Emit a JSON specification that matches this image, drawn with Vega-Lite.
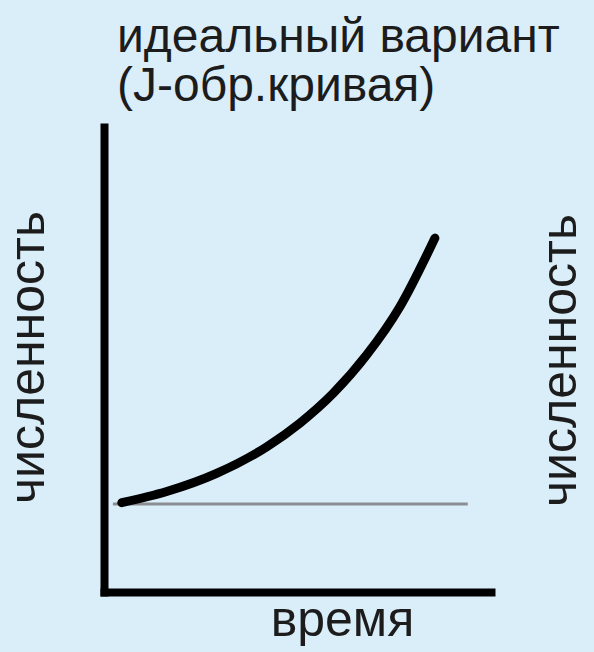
{
  "$schema": "https://vega.github.io/schema/vega-lite/v6.json",
  "autosize": {"type": "none"},
  "width": 387,
  "height": 465,
  "padding": {"left": 104, "top": 127, "right": 103, "bottom": 60},
  "background": "#daeefa",
  "config": {"view": {"stroke": null}},
  "title": {
    "text": ["идеальный вариант", "(J-обр.кривая)"],
    "anchor": "start",
    "frame": "group",
    "font": "Liberation Sans",
    "fontSize": 48,
    "fontWeight": "normal",
    "color": "#1c1c1c",
    "lineHeight": 49,
    "offset": 16,
    "dx": 13
  },
  "datasets": {
    "curve": [
      {"t": 0.46, "v": 1.92},
      {"t": 1.62, "v": 2.16},
      {"t": 2.91, "v": 2.55},
      {"t": 4.2, "v": 3.12},
      {"t": 5.06, "v": 3.63},
      {"t": 5.92, "v": 4.27},
      {"t": 6.79, "v": 5.1},
      {"t": 7.65, "v": 6.14},
      {"t": 8.55, "v": 7.61}
    ],
    "base": [
      {"t": 0.23, "v": 1.89},
      {"t": 9.4, "v": 1.89}
    ]
  },
  "layer": [
    {
      "data": {"name": "base"},
      "mark": {"type": "line", "color": "#8a8e92", "strokeWidth": 3},
      "encoding": {
        "x": {"field": "t", "type": "quantitative", "scale": {"domain": [0, 10], "nice": false, "zero": false},
          "axis": {"domain": true, "domainColor": "#000000", "domainWidth": 8, "domainCap": "square", "ticks": false, "labels": false, "grid": false,
            "title": "время", "titleFont": "Liberation Sans", "titleFontSize": 50, "titleFontWeight": "normal", "titleColor": "#1c1c1c",
            "titleX": 238, "titleY": 43, "titleAlign": "center", "titleBaseline": "alphabetic"}},
        "y": {"field": "v", "type": "quantitative", "scale": {"domain": [0, 10], "nice": false, "zero": false},
          "axis": {"orient": "right", "domain": false, "ticks": false, "labels": false, "grid": false,
            "title": "численность", "titleFont": "Liberation Sans", "titleFontSize": 50, "titleFontWeight": "normal", "titleColor": "#1c1c1c",
            "titleAngle": -90, "titleX": 84, "titleY": 233, "titleAlign": "center", "titleBaseline": "alphabetic"}}
      }
    },
    {
      "data": {"name": "curve"},
      "mark": {"type": "line", "color": "#000000", "strokeWidth": 9, "interpolate": "monotone", "strokeCap": "round"},
      "encoding": {
        "x": {"field": "t", "type": "quantitative"},
        "y": {"field": "v", "type": "quantitative",
          "axis": {"orient": "left", "domain": true, "domainColor": "#000000", "domainWidth": 8, "domainCap": "square", "ticks": false, "labels": false, "grid": false,
            "title": "численность", "titleFont": "Liberation Sans", "titleFontSize": 50, "titleFontWeight": "normal", "titleColor": "#1c1c1c",
            "titleAngle": -90, "titleX": -61, "titleY": 230, "titleAlign": "center", "titleBaseline": "alphabetic"}}
      }
    }
  ],
  "resolve": {"axis": {"y": "independent"}}
}
